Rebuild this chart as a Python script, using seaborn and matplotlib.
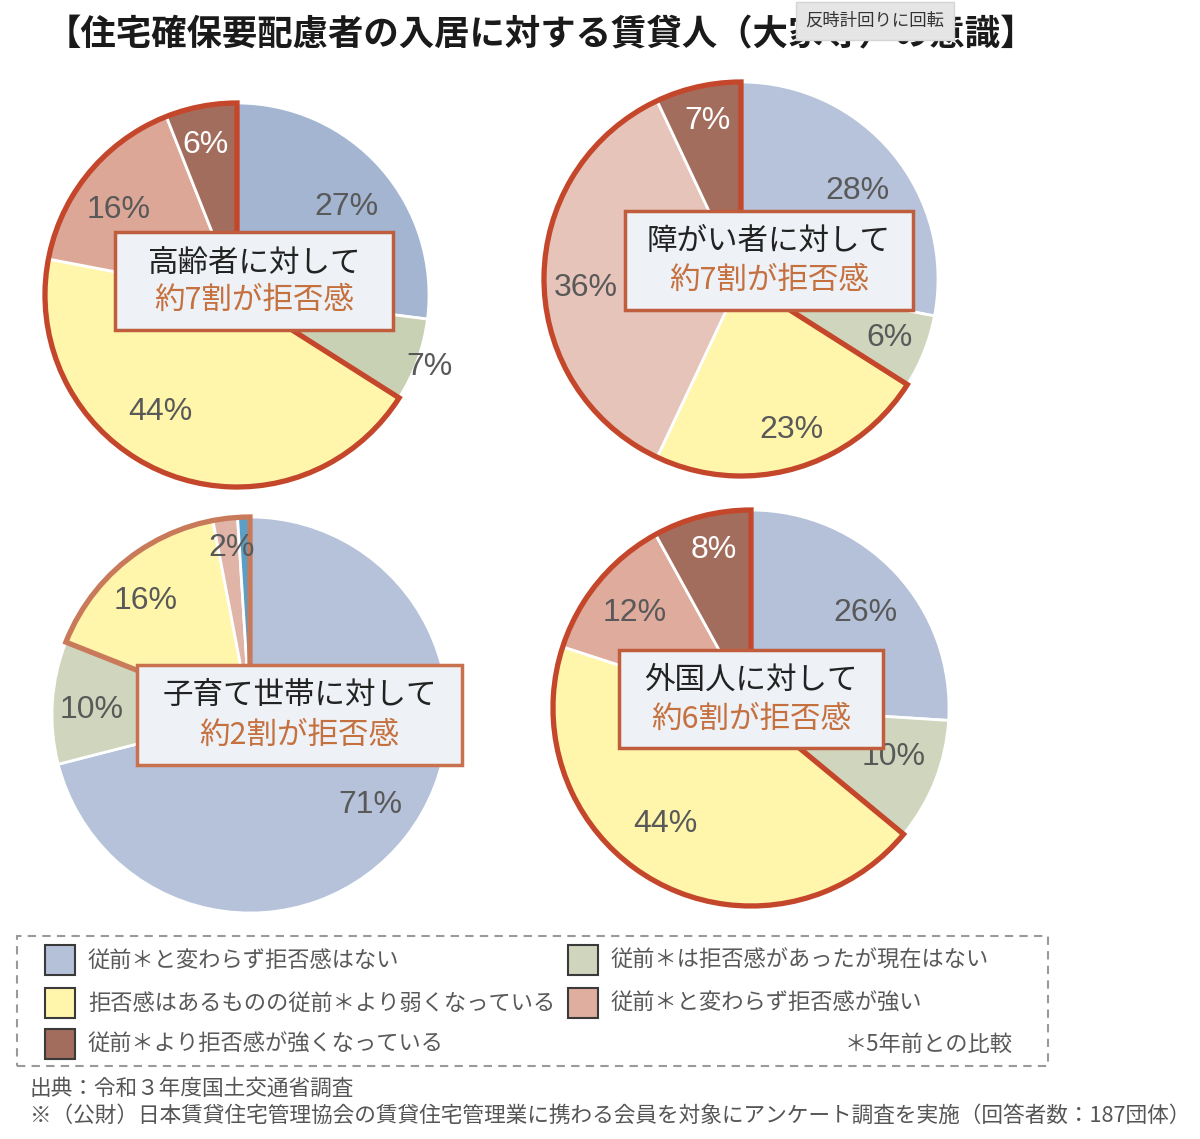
import numpy as np
import matplotlib.pyplot as plt
import seaborn as sns
from matplotlib.patches import Rectangle, Wedge

# categories (legend order)
categories = ["従前＊と変わらず拒否感はない", "従前＊は拒否感があったが現在はない",
              "拒否感はあるものの従前＊より弱くなっている", "従前＊と変わらず拒否感が強い",
              "従前＊より拒否感が強くなっている"]
targets = ["高齢者", "障がい者", "子育て世帯", "外国人"]
elderly = [27, 7, 44, 16, 6]
disabled = [28, 6, 23, 36, 7]
child = [71, 10, 16, 2, 1]
foreign = [26, 10, 44, 12, 8]
reject_text = ["約7割", "約7割", "約2割", "約6割"]

sns.set_theme(style="white")
plt.rcParams['font.family'] = ['Noto Sans CJK JP', 'DejaVu Sans']

W, H = 1200, 1139
fig = plt.figure(figsize=(W / 100, H / 100), dpi=100)
ax = fig.add_axes([0, 0, 1, 1])


def Y(y):
    # pixel row -> data y
    return H - y


base = sns.color_palette(["#b5c1d9", "#cfd6bd", "#fff6ab", "#dfae9f", "#a36d5d"])

# layout for each pie: centre, radius, colour tweaks, outline, box, label placement
layout = [
    dict(vals=elderly, c=(237, 295), r=192, cols={0: "#a3b5d0", 1: "#c9d1b5", 3: "#dca796"},
         oc="#c4472b", bc="#bf5d3d", box=(115, 232, 393, 330), ly=(263, 300),
         d=[0.73, 1.07, 0.73, 0.76, 0.80], nudge=[2.7, 0.7, 11.5, -4, -1]),
    dict(vals=disabled, c=(741, 279), r=197, cols={0: "#b7c3da", 3: "#e6c4b9"},
         oc="#c4472b", bc="#bf5d3d", box=(625, 211, 913, 310), ly=(241, 280),
         d=[0.74, 0.81, 0.81, 0.79, 0.82], nudge=[2.6, 0, -2.2, -3.3, 0.5]),
    dict(vals=child, c=(250, 715), r=198, cols={0: "#b6c2da", 3: "#e0b5a7", 4: "#5b9fc6"},
         oc="#c97a5b", bc="#c8714f", box=(137, 665, 462, 765), ly=(695, 735),
         d=[0.76, 0.80, 0.78, 0.85, None], nudge=[-1.2, -1.8, -3, 1, 0]),
    dict(vals=foreign, c=(751, 708), r=198, cols={3: "#dfab9c"},
         oc="#c4472b", bc="#bf5d3d", box=(619, 650, 883, 748), ly=(680, 719),
         d=[0.75, 0.76, 0.73, 0.76, 0.82], nudge=[3.4, -2.6, 7.5, -0.3, 1.3]),
]

for i, p in enumerate(layout):
    vals = np.array(p["vals"], dtype=float)
    cols = [p["cols"].get(k, base[k]) for k in range(5)]
    cx, cy = p["c"]
    r = p["r"]
    ax.pie(vals, colors=cols, startangle=90, counterclock=False,
           center=(cx, Y(cy)), radius=r,
           wedgeprops=dict(edgecolor="white", linewidth=2))

    # outline around the "rejection" slices (yellow + pink + brown)
    frac = np.cumsum(vals) / vals.sum()
    phi1 = 360 * frac[1]
    ax.add_patch(Wedge((cx, Y(cy)), r, 90 - 360, 90 - phi1, fill=False,
                       edgecolor=p["oc"], linewidth=3.8, joinstyle="miter", zorder=3))

    # percentage labels
    start = np.concatenate([[0], frac[:-1]])
    for k, v in enumerate(p["vals"]):
        if p["d"][k] is None:
            continue
        phi = np.deg2rad(360 * (start[k] + vals[k] / vals.sum() / 2) + p["nudge"][k])
        lx = cx + p["d"][k] * r * np.sin(phi)
        ly = cy - p["d"][k] * r * np.cos(phi)
        ax.text(lx, Y(ly), f"{v}%", ha="center", va="center", fontsize=23,
                family=["Liberation Sans", "DejaVu Sans"],
                color="white" if k == 4 else "#595959", zorder=5)

    # callout box
    x0, y0, x1, y1 = p["box"]
    ax.add_patch(Rectangle((x0, Y(y1)), x1 - x0, y1 - y0, facecolor="#eef1f5",
                           edgecolor=p["bc"], linewidth=2.5, zorder=6))
    bx = (x0 + x1) / 2
    ax.text(bx, Y(p["ly"][0]), f"{targets[i]}に対して", ha="center", va="center",
            fontsize=22, color="#222222", zorder=7)
    ax.text(bx, Y(p["ly"][1]), f"{reject_text[i]}が拒否感", ha="center", va="center",
            fontsize=22, color="#c5703f", zorder=7)

# title
ax.text(46, Y(35), "【住宅確保要配慮者の入居に対する賃貸人（大家等）の意識】",
        ha="left", va="center", fontsize=25.5, fontweight="bold", color="#1a1a1a")
# tooltip overlay seen in the screenshot
ax.text(875, Y(21), "反時計回りに回転", ha="center", va="center", fontsize=12.5,
        color="#333333", zorder=10,
        bbox=dict(boxstyle="square,pad=0.55", fc="#e5e5e5", ec="#d5d5d5"))

# legend
ax.add_patch(Rectangle((17, Y(1066)), 1031, 130, fill=False, edgecolor="#9a9a9a",
                       linestyle=(0, (4, 3)), linewidth=1.5))
leg_pos = [(45, 960), (568, 960), (45, 1003), (568, 1003), (45, 1044)]
for k, (lx, ly) in enumerate(leg_pos):
    ax.add_patch(Rectangle((lx, Y(ly + 15)), 30, 30, facecolor=base[k],
                           edgecolor="#3a3a3a", linewidth=1.5))
    ax.text(lx + 43, Y(ly), categories[k], ha="left", va="center", fontsize=16,
            color="#595959")
ax.text(1013, Y(1044), "＊5年前との比較", ha="right", va="center", fontsize=16,
        color="#595959")

# source
ax.text(30, Y(1089), "出典：令和３年度国土交通省調査", ha="left", va="center",
        fontsize=15.6, color="#555555")
ax.text(30, Y(1116), "※（公財）日本賃貸住宅管理協会の賃貸住宅管理業に携わる会員を対象にアンケート調査を実施（回答者数：187団体）",
        ha="left", va="center", fontsize=15.6, color="#555555")

ax.set_xlim(0, W)
ax.set_ylim(0, H)
ax.set_aspect("equal")
ax.axis("off")
fig.savefig("out.png", dpi=100)
